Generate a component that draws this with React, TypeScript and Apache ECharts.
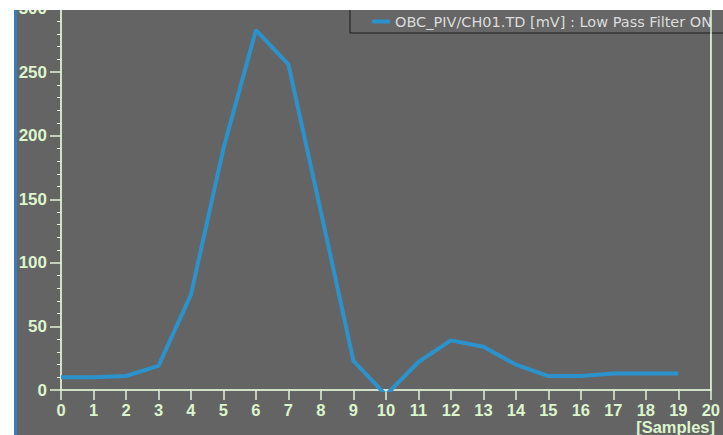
import React, { useEffect, useRef } from "react";
import * as echarts from "echarts";

const samples: number[] = [0, 1, 2, 3, 4, 5, 6, 7, 8, 9, 10, 11, 12, 13, 14, 15, 16, 17, 18, 19];
const values: number[] = [10, 10, 11, 19, 75, 190, 283, 256, 140, 23, -4, 22, 39, 34, 20, 11, 11, 13, 13, 13];
const seriesName = "OBC_PIV/CH01.TD [mV] : Low Pass Filter ON";
const xAxisName = "[Samples]";

const AXIS = "#e2f2d6";
const LABEL = "#dcf5cc";

export default function App() {
  const ref = useRef<HTMLDivElement>(null);
  useEffect(() => {
    if (!ref.current) return;
    const chart = echarts.init(ref.current, undefined, { renderer: "svg" });
    chart.setOption({
      animation: false,
      backgroundColor: "#646464",
      grid: {
        left: 61,
        right: 11,
        top: 6,
        bottom: 45,
        show: true,
        borderColor: AXIS,
        borderWidth: 1,
        backgroundColor: "transparent",
      },
      legend: {
        left: 350,
        top: 6,
        padding: [8, 60, 4, 22],
        borderColor: "#1a1a1a",
        borderWidth: 1,
        backgroundColor: "#666666",
        itemWidth: 18,
        itemHeight: 4,
        icon: "roundRect",
        textStyle: {
          color: "#dcdcdc",
          fontFamily: "DejaVu Sans",
          fontSize: 14.5,
        },
        data: [seriesName],
      },
      xAxis: {
        type: "value",
        min: 0,
        max: 20,
        interval: 1,
        axisLine: { onZero: false, lineStyle: { color: AXIS, width: 1.5 } },
        axisTick: { show: true, inside: false, length: 10, lineStyle: { color: AXIS, width: 1.5 } },
        splitLine: { show: false },
        axisLabel: {
          color: LABEL,
          fontFamily: "Liberation Sans",
          fontWeight: "bold",
          fontSize: 16.5,
          lineHeight: 16,
          margin: 12,
          showMaxLabel: true,
          showMinLabel: true,
        },
      },
      yAxis: [
        {
          type: "value",
          min: 0,
          max: 300,
          interval: 50,
          axisLine: { show: true, onZero: false, lineStyle: { color: AXIS, width: 1.5 } },
          axisTick: { show: true, inside: false, length: 11, lineStyle: { color: AXIS, width: 1.5 } },
          minorTick: { show: true, splitNumber: 5, length: 4, lineStyle: { color: AXIS, width: 1 } },
          splitLine: { show: false },
          axisLabel: {
            color: LABEL,
            fontFamily: "Liberation Sans",
            fontWeight: "bold",
            fontSize: 17,
            margin: 14,
          },
        },
        {
          type: "value",
          position: "right",
          min: 0,
          max: 300,
          interval: 50,
          z: 10,
          axisLine: { show: true, onZero: false, lineStyle: { color: AXIS, width: 1.5 } },
          axisTick: { show: false },
          axisLabel: { show: false },
          splitLine: { show: false },
        },
      ],
      series: [
        {
          name: seriesName,
          type: "line",
          data: samples.map((s, i) => [s, values[i]]),
          symbol: "none",
          clip: true,
          lineStyle: { color: "#2c92cc", width: 4 },
          itemStyle: { color: "#2c92cc" },
          z: 3,
        },
      ],
      graphic: [
        { type: "rect", z: 100, shape: { x: 0, y: 0, width: 723, height: 10 }, style: { fill: "#ffffff" } },
        { type: "rect", z: 100, shape: { x: 0, y: 0, width: 14, height: 435 }, style: { fill: "#ffffff" } },
        { type: "rect", z: 100, shape: { x: 14, y: 10, width: 3, height: 425 }, style: { fill: "#3a7cbc" } },
        {
          type: "text",
          z: 100,
          x: 715,
          y: 419,
          style: {
            text: xAxisName,
            fill: LABEL,
            font: "bold 16.5px 'Liberation Sans'",
            lineHeight: 16,
            align: "right",
            verticalAlign: "top",
          },
        },
      ],
    });
    return () => chart.dispose();
  }, []);
  return (
    <div
      ref={ref}
      style={{ position: "fixed", left: 0, top: 0, width: 723, height: 435 }}
    />
  );
}
